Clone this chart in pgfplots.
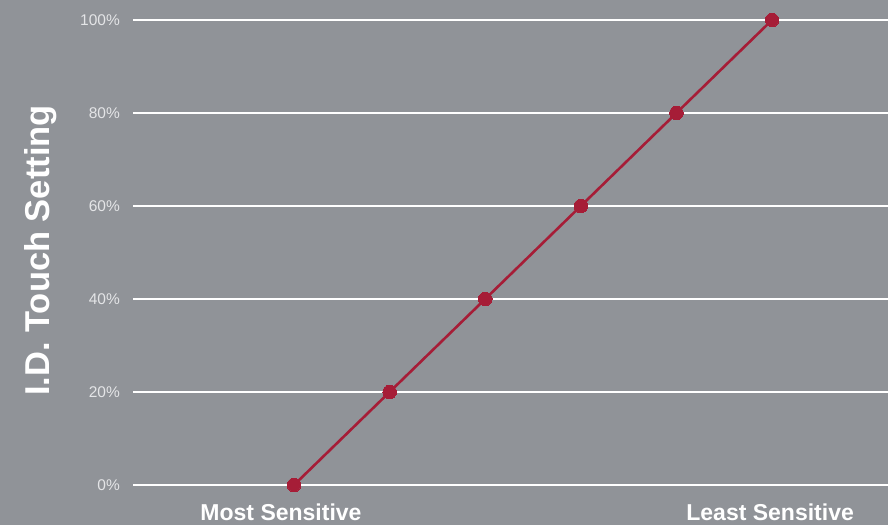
\documentclass[border=0pt]{standalone}
\usepackage{pgfplots}
\pgfplotsset{compat=1.18}
\usepackage{fontspec}
\setmainfont{Liberation Sans}
\definecolor{bg}{HTML}{909398}
\definecolor{lred}{HTML}{A61D37}
\definecolor{tick}{HTML}{E4E5E7}
\begin{document}
\begin{tikzpicture}[x=1pt,y=1pt]
\useasboundingbox (0,0) rectangle (888,525);
\clip (0,0) rectangle (888,525);
\fill[bg] (0,0) rectangle (888,525);
\begin{axis}[
  at={(133pt,40pt)}, anchor=south west,
  scale only axis, width=755pt, height=465pt,
  xmin=-1.684, xmax=6.213, ymin=0, ymax=100,
  axis line style={draw=none},
  ytick={0,20,40,60,80,100},
  yticklabels={0\%,20\%,40\%,60\%,80\%,100\%},
  ymajorgrids, grid style={white, line width=1.2pt},
  major tick length=0pt,
  yticklabel style={font=\fontsize{15.5}{17}\selectfont, text=tick, anchor=east, inner sep=0pt, xshift=-13pt},
  xtick={-0.136,4.98},
  xticklabels={Most Sensitive, Least Sensitive},
  xticklabel style={font=\bfseries\fontsize{23}{25}\selectfont, text=white, anchor=base, inner sep=0pt, yshift=-35pt},
  clip=false,
]
\addplot[color=lred, line width=2.6pt, mark=*, mark size=6.8pt, mark options={fill=lred, draw=lred, line width=0pt}]
  coordinates {(0,0) (1,20) (2,40) (3,60) (4,80) (5,100)};
\node[xshift=-84pt, yshift=2pt, rotate=90, anchor=base, inner sep=0pt, font=\bfseries\fontsize{34.5}{36}\selectfont, text=white] at (rel axis cs:0,0.5) {I.D. Touch Setting};
\end{axis}
\end{tikzpicture}
\end{document}
